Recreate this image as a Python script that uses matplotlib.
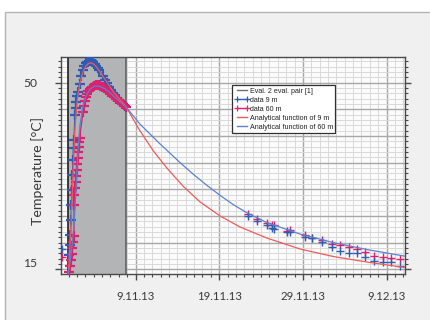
import matplotlib
matplotlib.use('Agg')
import matplotlib.pyplot as plt
import matplotlib.transforms as mtransforms
from matplotlib.ticker import MultipleLocator, FixedLocator, FixedFormatter
from matplotlib.patches import Rectangle
from matplotlib.lines import Line2D

# ---------------- data (x = days relative to 9.11.13, y = temperature in °C) ----------------
xtick_pos = [0, 10, 20, 30]
xtick_labels = ['9.11.13', '19.11.13', '29.11.13', '9.12.13']
ytick_pos = [50, 15]
ytick_labels = ['50', '15']
ygrid_major = [45, 40, 35, 30, 25, 20]

eval_start = -8.07
eval_end = -1.10

# isolated readings before the evaluation window
pre_day = [-8.83]
pre_9m = [18.8]
pre_60m = [17.4]

# heating phase, data 9 m
heat9_day = [-7.895, -7.835, -7.775, -7.715, -7.656, -7.596, -7.536, -7.476, -7.416, -7.356,
             -7.237, -7.177, -7.117, -6.998, -6.878, -6.699, -6.519, -6.340, -6.160, -5.981,
             -5.801, -5.622, -5.443, -5.263, -5.084, -4.904, -4.725, -4.545, -4.366, -3.888,
             -3.648, -3.409, -3.170, -2.931, -2.691, -2.452, -2.213, -1.974, -1.734, -1.495,
             -1.256]
heat9_T = [17.67, 19.55, 21.43, 24.24, 27.05, 29.87, 32.68, 35.50, 37.75, 39.25,
           43.94, 45.25, 46.38, 47.50, 48.26, 49.76, 51.26, 52.38, 53.13, 53.60,
           53.88, 54.07, 54.07, 53.98, 53.79, 53.51, 53.13, 52.76, 52.38, 51.26,
           50.51, 49.85, 49.19, 48.63, 48.07, 47.60, 47.13, 46.66, 46.29, 45.91,
           45.53]

# heating phase, data 60 m
heat60_day = [-7.895, -7.811, -7.715, -7.620, -7.536, -7.452, -7.356, -7.356, -7.297, -7.237,
              -7.177, -7.117, -7.057, -6.998, -6.938, -6.878, -6.818, -6.758, -6.699, -6.280,
              -6.160, -6.041, -5.921, -5.801, -5.682, -5.502, -5.323, -5.144, -4.964, -4.785,
              -4.605, -4.426, -4.246, -4.007, -3.768, -3.529, -3.289, -3.050, -2.811, -2.572,
              -2.333, -2.093, -1.854, -1.615, -1.376, -1.196]
heat60_T = [14.48, 15.61, 16.73, 17.86, 18.99, 20.11, 21.24, 27.05, 28.93, 30.24,
            31.37, 32.50, 33.62, 34.75, 35.87, 37.00, 37.94, 38.87, 39.62, 44.50,
            45.63, 46.57, 47.32, 47.88, 48.44, 48.82, 49.01, 49.19, 49.38, 49.47,
            49.57, 49.47, 49.29, 49.19, 48.91, 48.63, 48.26, 47.97, 47.60, 47.32,
            46.94, 46.66, 46.38, 46.00, 45.72, 45.44]

# recovery phase readings
late_day = [13.49, 14.50, 15.69, 16.29, 16.57, 18.09, 18.48, 20.27, 21.08, 22.27,
            23.47, 24.46, 25.45, 26.46, 27.45, 28.44, 29.57, 30.53, 31.56]
late_9m = [25.05, 24.11, 23.25, 22.68, 22.50, 21.93, 21.93, 21.11, 20.86, 20.17,
           19.23, 18.48, 18.11, 17.99, 17.35, 16.60, 16.42, 16.30, 15.67]
late_60m = [25.37, 24.43, 23.73, 23.30, 23.30, 22.18, 22.36, 21.43, 20.92, 20.49,
            19.74, 19.55, 19.23, 18.80, 18.29, 17.49, 17.35, 17.17, 16.87]

# analytical function of 9 m (red)
ana9_day = [-8.074, -7.955, -7.835, -7.715, -7.596, -7.476, -7.356, -7.237, -7.057, -6.878,
            -6.639, -6.400, -6.160, -5.921, -5.682, -5.443, -5.203, -4.964, -4.725, -4.486,
            -4.007, -3.529, -3.050, -2.572, -2.093, -1.615, -1.100, 0.538, 2.129, 3.732,
            5.718, 7.715, 10.108, 12.500, 15.694, 19.677, 23.660, 27.656, 32.237]
ana9_T = [13.7, 16.36, 19.55, 23.30, 27.99, 32.68, 37.37, 41.50, 45.25, 47.88,
          49.94, 51.44, 52.48, 53.13, 53.51, 53.70, 53.66, 53.41, 53.04, 52.57,
          51.44, 50.32, 49.19, 48.16, 47.22, 46.38, 45.35, 40.94, 37.19, 34.00,
          30.53, 27.62, 24.99, 22.93, 20.86, 18.80, 17.39, 16.36, 15.33]

# analytical function of 60 m (blue)
ana60_day = [-8.074, -7.835, -7.596, -7.356, -7.117, -6.878, -6.639, -6.280, -5.921, -5.443,
             -4.844, -4.246, -3.648, -3.050, -2.452, -1.854, -1.100, 0.538, 2.931, 5.323,
             6.914, 8.517, 10.108, 11.700, 13.301, 15.694, 19.677, 23.660, 27.656, 32.237]
ana60_T = [13.7, 16.36, 19.36, 23.30, 29.87, 37.37, 42.06, 45.63, 47.50, 48.82,
           49.38, 49.29, 48.82, 48.07, 47.22, 46.38, 45.35, 42.20, 38.50, 35.00,
           32.80, 30.75, 28.85, 27.10, 25.60, 23.75, 21.60, 20.00, 18.70, 17.45]

# ---------------- styling ----------------
c_blue_data = '#2d5cb6'
c_pink_data = '#e0206e'
c_red_fit = '#f05a5a'
c_blue_fit = '#5a82cc'
c_eval = '#707070'

fig = plt.figure(figsize=(4.31, 3.2), dpi=100)
fig.patch.set_facecolor('white')
fig.patches.append(Rectangle((5 / 431, -0.1), 1.2, 1 - 12 / 320 + 0.1,
                             transform=fig.transFigure, facecolor='#f0f0f0',
                             edgecolor='#b4b4b4', linewidth=1.0, zorder=-10))

ax = fig.add_axes([61 / 431, 1 - 274 / 320, 344 / 431, 217 / 320])
ax.set_facecolor('#fbfbfb')
ax.set_xlim(-8.91, 32.2)
ax.set_ylim(14.12, 54.8)

ax.xaxis.set_major_locator(FixedLocator(xtick_pos))
ax.xaxis.set_major_formatter(FixedFormatter(xtick_labels))
ax.xaxis.set_minor_locator(MultipleLocator(1))
ax.yaxis.set_major_locator(FixedLocator(ytick_pos))
ax.yaxis.set_major_formatter(FixedFormatter(ytick_labels))
ax.yaxis.set_minor_locator(MultipleLocator(1))

ax.set_axisbelow(True)
ax.grid(which='minor', color='#d9d9d9', linewidth=0.7)
ax.grid(which='major', color='#a8a8a8', linewidth=1.0)
for yv in ygrid_major:
    ax.axhline(yv, color='#a8a8a8', linewidth=1.0, zorder=0.6)

for s in ax.spines.values():
    s.set_color('#4a4a4a')
    s.set_linewidth(1.0)

ax.tick_params(which='both', direction='out', left=True, right=True, bottom=True, top=False,
               color='#4a4a4a')
ax.tick_params(which='major', length=4, width=1.0, pad=8)
ax.tick_params(which='minor', length=2.5, width=0.8)
ax.tick_params(axis='y', which='major', pad=13)

for lab in ax.get_xticklabels():
    lab.set_fontfamily('Lato')
    lab.set_fontsize(8.2)
    lab.set_color('#3a3a3a')
for lab in ax.get_yticklabels():
    lab.set_fontfamily('Lato')
    lab.set_fontsize(8.7)
    lab.set_color('#3a3a3a')

# evaluation window
ax.axvspan(eval_start, eval_end, facecolor='#b2b4b6', edgecolor='none', zorder=1)
ax.axvline(eval_start, color='#202020', linewidth=1.2, zorder=1.5)
ax.axvline(eval_end, color='#606060', linewidth=1.2, zorder=1.5)

mk_heat = dict(marker='+', markersize=6.5, markeredgewidth=1.6)
mk = dict(marker='+', markersize=5.5, markeredgewidth=1.0)
ax.plot(heat9_day, heat9_T, color=c_blue_data, linewidth=1.0, zorder=3, **mk_heat)
ax.plot(heat60_day, heat60_T, color=c_pink_data, linewidth=1.0, zorder=3, **mk_heat)
ax.plot(pre_day, pre_9m, linestyle='none', color=c_blue_data, zorder=3, **mk)
ax.plot(pre_day, pre_60m, linestyle='none', color=c_pink_data, zorder=3, **mk)
ax.plot(late_day, late_60m, linestyle='none', color=c_pink_data, zorder=3, **mk)
ax.plot(late_day, late_9m, linestyle='none', color=c_blue_data, zorder=3, **mk)
ax.plot(ana9_day, ana9_T, color=c_red_fit, linewidth=0.9, zorder=4)
ax.plot(ana60_day, ana60_T, color=c_blue_fit, linewidth=0.9, zorder=4)

handles = [
    Line2D([], [], color=c_eval, linewidth=1.0),
    Line2D([], [], color=c_blue_data, linewidth=1.0, marker='+', markersize=4, markeredgewidth=0.9),
    Line2D([], [], color=c_pink_data, linewidth=1.0, marker='+', markersize=4, markeredgewidth=0.9),
    Line2D([], [], color=c_red_fit, linewidth=1.0),
    Line2D([], [], color=c_blue_fit, linewidth=1.0),
]
labels = ['Eval. 2 eval. pair [1]', 'data 9 m', 'data 60 m',
          'Analytical function of 9 m', 'Analytical function of 60 m']
leg = ax.legend(handles, labels, loc='upper left',
                bbox_to_anchor=((232.3 - 61) / 344, (274 - 85.3) / 217),
                borderaxespad=0, numpoints=2, handlelength=2.0, handletextpad=0.1,
                borderpad=0.35, labelspacing=0.28, fancybox=False, framealpha=1,
                prop={'family': 'Liberation Sans', 'size': 5.1})
leg.get_frame().set_edgecolor('#303030')
leg.get_frame().set_linewidth(0.9)
leg.set_zorder(6)
for t in leg.get_texts():
    t.set_color('#202020')

fig.text(37.5 / 431, 1 - 171 / 320, 'Temperature [°C]', rotation=90, ha='center', va='center',
         fontfamily='Lato', fontsize=10.2, color='#3a3a3a')

for lab in ax.get_yticklabels():
    if lab.get_text() == '15':
        lab.set_transform(lab.get_transform() +
                          mtransforms.ScaledTranslation(0, 7 / 100, fig.dpi_scale_trans))

fig.savefig('out.png', dpi=100, facecolor=fig.get_facecolor())
